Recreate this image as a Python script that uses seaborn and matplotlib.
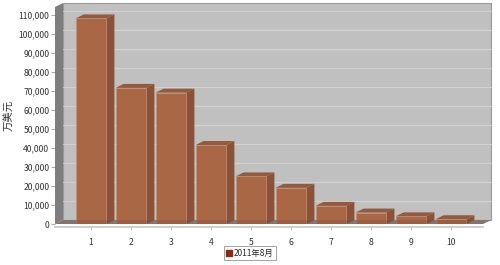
import matplotlib
matplotlib.use("Agg")
import matplotlib.pyplot as plt
import seaborn as sns
import numpy as np
from matplotlib.patches import Polygon
from matplotlib.lines import Line2D

categories = ["1", "2", "3", "4", "5", "6", "7", "8", "9", "10"]
values = [108000, 71500, 69000, 41500, 25000, 19000, 9500, 6000, 4000, 2500]
series_name = "2011年8月"
y_label = "万美元"
y_ticks = list(range(0, 110001, 10000))

sns.set_theme(style="white")
plt.rcParams['font.family'] = ['Noto Sans CJK SC', 'DejaVu Sans']

fig = plt.figure(figsize=(5, 2.65), dpi=100)
ax = fig.add_axes([55/500, 1-224/265, (483-55)/500, (224-7)/265])

front_col = "#AA6746"
side_col = "#8A5238"
top_col = "#925A3E"

sns.barplot(x=categories, y=values, color=front_col, width=0.77, ax=ax,
            saturation=1, edgecolor="#C98E6C", linewidth=0.4, zorder=3)

x0l, x1l = -0.9, 9.8
ymax = 114000
ax.set_xlim(x0l, x1l)
ax.set_ylim(0, ymax)
dx = 8/40.0
dy = 4 * (10000/19.05)

# back wall
ax.add_patch(Polygon([(x0l+dx, dy), (x0l+dx, ymax+dy), (x1l+dx, ymax+dy), (x1l+dx, dy)],
                     closed=True, facecolor="#C0C0C0", edgecolor="#999999", lw=0.8,
                     zorder=0, clip_on=False))
# gridlines on back wall
for t in y_ticks[1:]:
    ax.plot([x0l+dx, x1l+dx], [t+dy, t+dy], color="#D2D2D2", lw=0.7, zorder=0.5, clip_on=False)
# left wall
ax.add_patch(Polygon([(x0l, 0), (x0l, ymax), (x0l+dx, ymax+dy), (x0l+dx, dy)],
                     closed=True, facecolor="#7E7E7E", edgecolor="none", zorder=0.6, clip_on=False))
# floor
ax.add_patch(Polygon([(x0l, 0), (x0l+dx, dy), (x1l+dx, dy), (x1l, 0)],
                     closed=True, facecolor="#858585", edgecolor="none", zorder=0.7, clip_on=False))

# 3D faces from the bar patches
for p in list(ax.patches):
    if not hasattr(p, "get_width") or p.get_zorder() != 3:
        continue
    bx, bw, bh = p.get_x(), p.get_width(), p.get_height()
    ax.add_patch(Polygon([(bx+bw, 0), (bx+bw, bh), (bx+bw+dx, bh+dy), (bx+bw+dx, dy)],
                         closed=True, facecolor=side_col, edgecolor="none", zorder=2.8, clip_on=False))
    ax.add_patch(Polygon([(bx, bh), (bx+dx, bh+dy), (bx+bw+dx, bh+dy), (bx+bw, bh)],
                         closed=True, facecolor=top_col, edgecolor="none", zorder=2.9, clip_on=False))
# translucent floor band over bar bottoms
ax.add_patch(Polygon([(x0l, 0), (x0l+dx, dy), (x1l+dx, dy), (x1l, 0)],
                     closed=True, facecolor="#6E4A3A", alpha=0.25, edgecolor="none", zorder=4, clip_on=False))

for s in ["top", "right", "left"]:
    ax.spines[s].set_visible(False)
ax.spines["bottom"].set_color("#C8C8C8")
ax.spines["bottom"].set_position(("outward", 2))
ax.set_yticks(y_ticks)
ax.set_yticklabels([f"{t:,}" for t in y_ticks])
ax.tick_params(axis="y", left=True, length=3, width=0.6, color="#999999", labelsize=6.2,
               labelcolor="#333333", pad=1)
ax.tick_params(axis="x", bottom=True, length=2, width=0.6, color="#BBBBBB", labelsize=6.2,
               labelcolor="#333333", pad=6)
ax.set_xlabel("")
ax.set_ylabel(y_label, fontsize=7.5, color="#333333", labelpad=3)
ax.set_facecolor("none")
ax.grid(False)

handle = Line2D([], [], marker="s", linestyle="none", markersize=4.5, color="#8B2A10")
leg = fig.legend([handle], [series_name], loc="center", bbox_to_anchor=(250/500, 1-253/265),
                 frameon=True, fontsize=6, handlelength=0.6, handletextpad=0.3,
                 borderpad=0.3, fancybox=False, edgecolor="#777777")
leg.get_frame().set_linewidth(0.6)

fig.savefig("out.png", dpi=100)
